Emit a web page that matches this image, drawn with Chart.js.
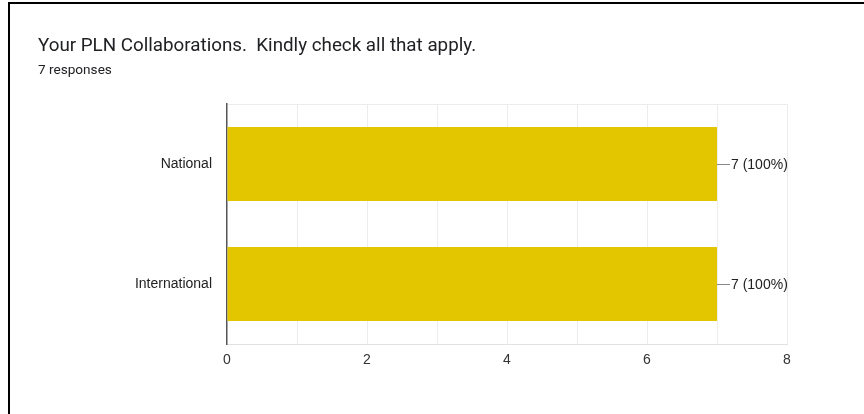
<!DOCTYPE html>
<html>
<head>
<meta charset="utf-8">
<script src="https://cdn.jsdelivr.net/npm/chart.js@4/dist/chart.umd.min.js"></script>
<style>
  body { margin: 0; background: #fff; }
  #wrap { position: relative; width: 864px; height: 414px; overflow: hidden; }
  #frame { position: absolute; left: 8px; top: 2px; width: 900px; height: 500px;
    border-top: 2.5px solid #000; border-left: 2.5px solid #000; }
  #title { position: absolute; left: 38px; top: 34px; font: 18.8px Roboto, sans-serif; color: #202124; white-space: pre; }
  #sub { position: absolute; left: 38px; top: 61px; font: 13.6px Roboto, sans-serif; color: #202124; }
  canvas { position: absolute; left: 0; top: 0; }
</style>
</head>
<body>
<div id="wrap">
  <div id="frame"></div>
  <canvas id="myChart" width="864" height="414"></canvas>
  <div id="title">Your PLN Collaborations.  Kindly check all that apply.</div>
  <div id="sub">7 responses</div>
</div>
<script>
const categories = ['National', 'International'];
const counts = [7, 7];
const totalResponses = 7;
const xTicks = [0, 2, 4, 6, 8];

// leader line + "7 (100%)" next to each bar
const valueLabels = {
  id: 'valueLabels',
  afterDatasetsDraw(chart) {
    const ctx = chart.ctx;
    const meta = chart.getDatasetMeta(0);
    ctx.save();
    ctx.font = '14px "Liberation Sans", Arial, sans-serif';
    ctx.textBaseline = 'middle';
    meta.data.forEach((bar, i) => {
      const v = counts[i];
      const pct = Math.round(v / totalResponses * 100);
      ctx.strokeStyle = '#888';
      ctx.lineWidth = 1;
      ctx.beginPath();
      ctx.moveTo(bar.x, Math.round(bar.y) + 0.5);
      ctx.lineTo(bar.x + 13, Math.round(bar.y) + 0.5);
      ctx.stroke();
      ctx.fillStyle = '#222';
      ctx.fillText(v + ' (' + pct + '%)', bar.x + 14, bar.y + 1);
    });
    ctx.restore();
  }
};

const ctx = document.getElementById('myChart').getContext('2d');
// eslint-disable-next-line
var myChart = new Chart(ctx, {
  type: 'bar',
  data: {
    labels: categories,
    datasets: [{
      data: counts,
      backgroundColor: '#e3c600',
      categoryPercentage: 1,
      barPercentage: 0.615,
    }],
  },
  options: {
    indexAxis: 'y',
    responsive: false,
    animation: false,
    layout: { padding: { top: 104, right: 77, bottom: 0, left: 0 } },
    plugins: { legend: { display: false }, tooltip: { enabled: false } },
    scales: {
      x: {
        min: 0,
        max: 8,
        afterFit: (s) => { s.height = 70; },
        afterBuildTicks: (s) => { s.ticks = [0, 1, 2, 3, 4, 5, 6, 7, 8].map(v => ({ value: v })); },
        ticks: {
          padding: 8,
          color: '#333',
          font: { family: '"Liberation Sans", Arial, sans-serif', size: 14 },
          callback: (v) => (xTicks.includes(v) ? String(v) : ''),
        },
        grid: {
          drawTicks: false,
          color: (c) => (c.tick && c.tick.value === 0 ? 'rgba(0,0,0,0)' : '#ececec'),
        },
        border: { color: '#e2e2e2' },
      },
      y: {
        afterFit: (s) => { s.width = 227; },
        ticks: {
          padding: 15,
          color: '#222',
          font: { family: '"Liberation Sans", Arial, sans-serif', size: 14 },
        },
        grid: {
          drawTicks: false,
          color: (c) => (c.index === 1 ? 'rgba(0,0,0,0)' : '#ececec'),
        },
        border: { color: '#555', width: 1.5 },
      },
    },
  },
  plugins: [valueLabels],
});
</script>
</body>
</html>
